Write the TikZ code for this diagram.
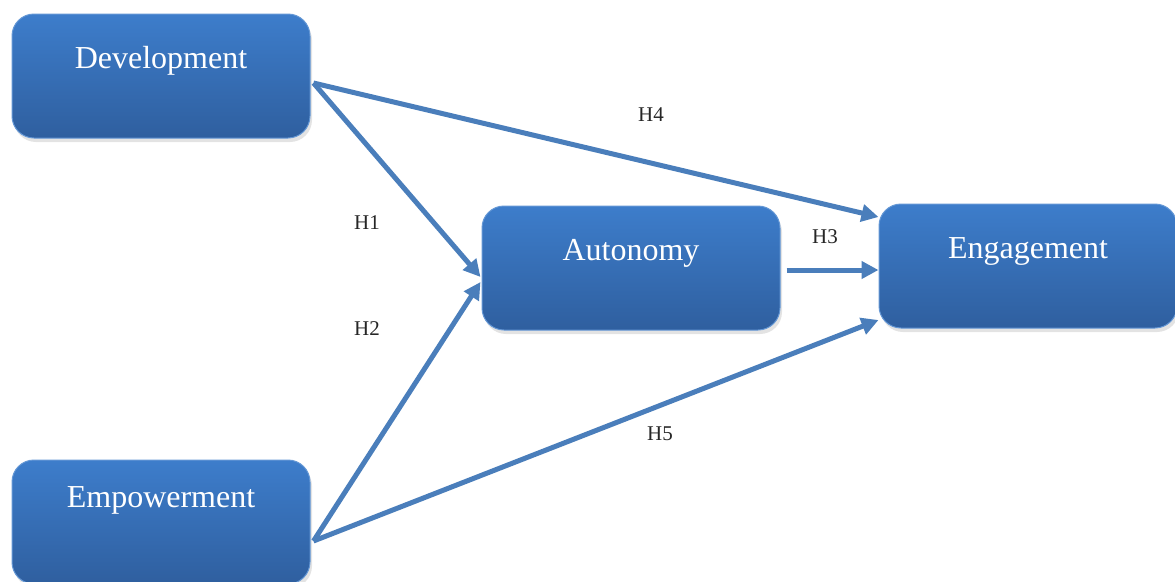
\documentclass[tikz,border=0pt]{standalone}
\usepackage{fontspec}
\setmainfont{Liberation Serif}
\usetikzlibrary{arrows.meta,shadows,calc}
\definecolor{boxtop}{HTML}{3D7DCB}
\definecolor{boxbot}{HTML}{2F5F9F}
\definecolor{arrowcol}{HTML}{4A7EBB}
\definecolor{labcol}{HTML}{262626}
\tikzset{
  box/.style={draw=boxtop!80!white, line width=1pt, rounded corners=22pt,
    top color=boxtop, bottom color=boxbot, minimum width=298pt, minimum height=124pt,
    inner sep=0pt, drop shadow={shadow xshift=2pt, shadow yshift=-4pt, opacity=0.22}},
  boxtext/.style={text=white, font=\fontsize{32}{38}\selectfont, inner sep=0pt},
  link/.style={draw=arrowcol, line width=5pt, -{Triangle[length=17pt,width=17pt]}},
  hlab/.style={text=labcol, font=\fontsize{21}{24}\selectfont, inner sep=0pt}
}
\begin{document}
\begin{tikzpicture}[x=1pt,y=-1pt]
\useasboundingbox (0,0) rectangle (1175,581);
\node[box, label={[boxtext,yshift=15pt]center:Development}] (dev) at (161,76) {};
\node[box, label={[boxtext,yshift=15pt]center:Autonomy}] (aut) at (631,268) {};
\node[box, label={[boxtext,yshift=15pt]center:Engagement}] (eng) at (1028,266) {};
\node[box, label={[boxtext,yshift=22pt]center:Empowerment}] (emp) at (161,522) {};
\coordinate (d1) at ([shift={(3,7)}]dev.east);
\coordinate (e1) at ([shift={(3,19)}]emp.east);
\draw[link] (d1) -- ([shift={(0,-49)}]eng.west);
\draw[link] (d1) -- ([shift={(-1,9)}]aut.west);
\draw[link] (e1) -- ([shift={(-1,14)}]aut.west);
\draw[link] (e1) -- ([shift={(0,54)}]eng.west);
\draw[link] ([shift={(6,2)}]aut.east) -- ([shift={(0,4)}]eng.west);
\node[hlab] (h1) at (367,223) {H1};
\node[hlab] (h2) at (367,329) {H2};
\node[hlab] (h3) at (825,237) {H3};
\node[hlab] (h4) at (651,115) {H4};
\node[hlab] (h5) at (660,434) {H5};
\end{tikzpicture}
\end{document}
